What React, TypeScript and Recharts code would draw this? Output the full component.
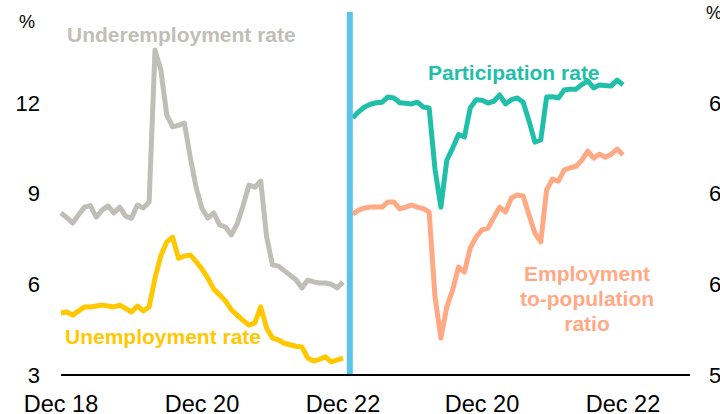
import { Line, LineChart, ReferenceLine, XAxis, YAxis } from "recharts";

// monthly, Dec 18 .. Dec 22 (index 0..48)
const underemployment = [
  8.36, 8.2, 8.02, 8.3, 8.55, 8.6, 8.22, 8.45, 8.59, 8.36, 8.55, 8.25, 8.18, 8.62, 8.52, 8.72,
  13.74, 13.08, 11.6, 11.2, 11.25, 11.33, 10.2, 9.2, 8.5, 8.19, 8.36, 7.96, 7.89, 7.63, 8.0, 8.6,
  9.28, 9.21, 9.41, 7.56, 6.64, 6.6, 6.45, 6.3, 6.15, 5.88, 6.14, 6.08, 6.04, 6.04, 6.0, 5.88, 6.07,
];
const unemployment = [
  5.05, 5.08, 4.98, 5.12, 5.25, 5.25, 5.28, 5.31, 5.28, 5.25, 5.31, 5.2, 5.08, 5.28, 5.12, 5.25,
  6.2, 6.95, 7.4, 7.56, 6.86, 6.93, 6.97, 6.75, 6.5, 6.2, 5.84, 5.65, 5.45, 5.15, 4.98, 4.8,
  4.65, 4.72, 5.25, 4.55, 4.22, 4.16, 4.05, 4.0, 3.95, 3.93, 3.56, 3.46, 3.52, 3.6, 3.43, 3.5, 3.56,
];

// right panel starts at Feb 19 (index 2)
const rightStart = 2;
const participation = [
  65.5, 65.7, 65.86, 65.95, 66.0, 66.02, 66.19, 66.16, 66.0, 65.98, 65.96, 66.02, 65.86, 65.83,
  63.8, 62.55, 64.1, 64.5, 64.95, 64.87, 65.83, 66.1, 66.08, 65.99, 66.05, 66.26, 65.96, 66.1,
  66.16, 66.02, 65.4, 64.7, 64.77, 66.19, 66.2, 66.16, 66.42, 66.45, 66.45, 66.6, 66.72, 66.49,
  66.59, 66.57, 66.55, 66.75, 66.59,
];
const empPop = [
  62.32, 62.45, 62.52, 62.55, 62.55, 62.55, 62.72, 62.72, 62.49, 62.55, 62.62, 62.55, 62.5, 62.39,
  59.58, 58.22, 59.25, 59.81, 60.57, 60.4, 61.2, 61.56, 61.8, 61.85, 62.2, 62.55, 62.39, 62.85,
  62.95, 62.92, 62.3, 61.69, 61.4, 63.12, 63.48, 63.41, 63.78, 63.85, 63.9, 64.1, 64.4, 64.17,
  64.3, 64.2, 64.3, 64.47, 64.27,
];

const leftTicks = [0, 24, 48];
const leftTickLabels = ["Dec 18", "Dec 20", "Dec 22"];
const rightTicks = [24, 48];
const rightTickLabels = ["Dec 20", "Dec 22"];
const leftYTicks = [3, 6, 9, 12];
const rightYTicks = [57, 60, 63, 66];

const leftData = underemployment.map((u, i) => ({ m: i, under: u, unemp: unemployment[i] }));
const rightData = participation.map((p, i) => ({ m: i + rightStart, part: p, emp: empPop[i] }));

const FONT = "'Liberation Sans', Arial, sans-serif";
const yTickStyle = { fill: "#000", fontSize: 22, fontFamily: FONT };
const xTickStyle = { fill: "#000", fontSize: 23.5, fontFamily: FONT };

const GREY = "#bfbfb8";
const YELLOW = "#ffc800";
const TEAL = "#20bfa9";
const SALMON = "#ffa985";
const BLUE = "#5bc3ea";
const LW = 5;

export default function App() {
  return (
    <div
      style={{
        position: "fixed",
        left: 0,
        top: 0,
        width: 720,
        height: 414,
        overflow: "hidden",
        background: "#fff",
      }}
    >
      <div style={{ position: "absolute", left: 0, top: 0 }}>
        <LineChart width={720} height={414} data={leftData} margin={{ top: 12, right: 377, bottom: 0, left: 0 }}>
          <XAxis
            dataKey="m"
            type="number"
            domain={[0, 48]}
            ticks={leftTicks}
            interval={0}
            tickFormatter={(v: number) => leftTickLabels[leftTicks.indexOf(v)]}
            tick={xTickStyle}
            tickLine={false}
            tickSize={0}
            tickMargin={20}
            height={39}
            axisLine={{ stroke: "#000", strokeWidth: 2 }}
          />
          <YAxis
            domain={[3, 15]}
            ticks={leftYTicks}
            interval={0}
            tick={yTickStyle}
            tickLine={false}
            tickSize={0}
            tickMargin={21}
            axisLine={false}
            width={61}
          />
          <Line type="linear" dataKey="under" stroke={GREY} strokeWidth={LW} dot={false} isAnimationActive={false} strokeLinejoin="round" />
          <Line type="linear" dataKey="unemp" stroke={YELLOW} strokeWidth={LW} dot={false} isAnimationActive={false} strokeLinejoin="round" />
        </LineChart>
      </div>
      <div style={{ position: "absolute", left: 0, top: 0 }}>
        <LineChart width={720} height={414} data={rightData} margin={{ top: 12, right: 0, bottom: 0, left: 341 }}>
          <XAxis
            dataKey="m"
            type="number"
            domain={[0, 59.4]}
            allowDataOverflow
            ticks={rightTicks}
            interval={0}
            tickFormatter={(v: number) => rightTickLabels[rightTicks.indexOf(v)]}
            tick={xTickStyle}
            tickLine={false}
            tickSize={0}
            tickMargin={20}
            height={39}
            axisLine={{ stroke: "#000", strokeWidth: 2 }}
          />
          <YAxis
            orientation="right"
            domain={[57, 69]}
            ticks={rightYTicks}
            interval={0}
            tick={{ ...yTickStyle, textAnchor: "start" }}
            tickLine={false}
            tickSize={0}
            tickMargin={19}
            axisLine={false}
            width={30}
          />
          <Line type="linear" dataKey="part" stroke={TEAL} strokeWidth={LW} dot={false} isAnimationActive={false} strokeLinejoin="round" />
          <Line type="linear" dataKey="emp" stroke={SALMON} strokeWidth={LW} dot={false} isAnimationActive={false} strokeLinejoin="round" />
          <ReferenceLine x={1.5} stroke={BLUE} strokeWidth={6} />
        </LineChart>
      </div>
      <svg
        width={720}
        height={414}
        style={{ position: "absolute", left: 0, top: 0, pointerEvents: "none" }}
        fontFamily={FONT}
      >
        <text x={19} y={28} fontSize={18} fill="#000">%</text>
        <text x={706} y={19} fontSize={18} fill="#000">%</text>
        <text x={67} y={42} fontSize={21} fontWeight="bold" fill={GREY}>Underemployment rate</text>
        <text x={65} y={344} fontSize={21} fontWeight="bold" fill={YELLOW}>Unemployment rate</text>
        <text x={428} y={80} fontSize={21} fontWeight="bold" fill={TEAL}>Participation rate</text>
        <text x={587} y={281} fontSize={21} fontWeight="bold" fill={SALMON} textAnchor="middle">Employment</text>
        <text x={587} y={306} fontSize={21} fontWeight="bold" fill={SALMON} textAnchor="middle">to-population</text>
        <text x={587} y={331} fontSize={21} fontWeight="bold" fill={SALMON} textAnchor="middle">ratio</text>
      </svg>
    </div>
  );
}
